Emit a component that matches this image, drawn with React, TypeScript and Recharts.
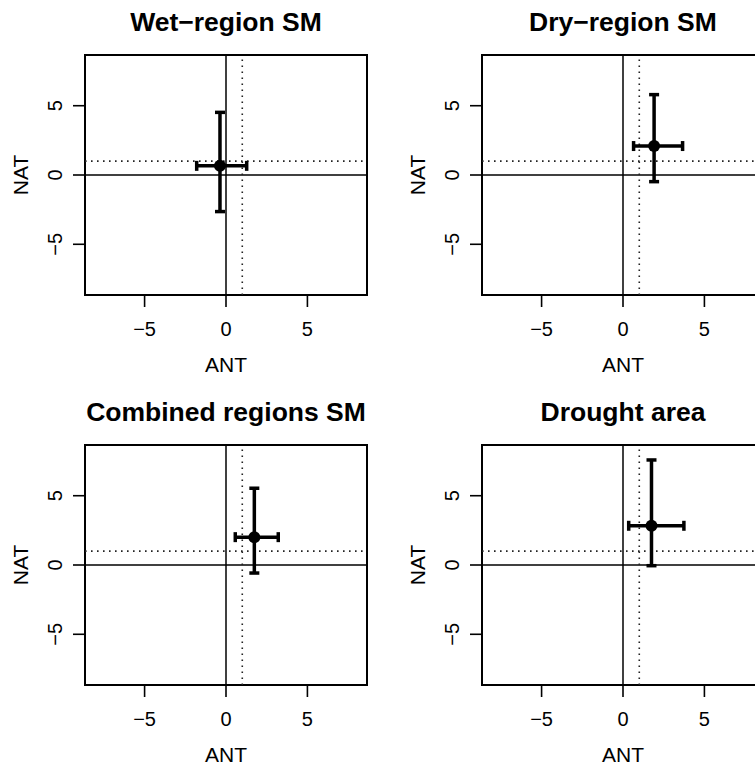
import React from "react";
import {
  ScatterChart,
  Scatter,
  XAxis,
  YAxis,
  ErrorBar,
  ReferenceLine,
  ReferenceArea,
  Label,
} from "recharts";

// panel titles and the estimates (best guess + range) for each panel
const panelTitles = ["Wet\u2212region SM", "Dry\u2212region SM", "Combined regions SM", "Drought area"];
const antBest = [-0.37, 1.91, 1.74, 1.75];
const antLow = [-1.8, 0.65, 0.57, 0.35];
const antHigh = [1.27, 3.66, 3.21, 3.74];
const natBest = [0.66, 2.09, 2.01, 2.83];
const natLow = [-2.64, -0.48, -0.58, -0.05];
const natHigh = [4.52, 5.8, 5.54, 7.58];
const axisTicks = [-5, 0, 5];

const LIM = 8.66;
const FONT = '"Liberation Sans", Arial, Helvetica, sans-serif';
const CHART_W = 396;
const CHART_H = 389;
const PLOT_LEFT = 85;
const PLOT_TOP = 55;
const PLOT_W = 282;
const PLOT_H = 240;

const fmt = (v: number) => (v < 0 ? `\u2212${Math.abs(v)}` : `${v}`);

function XTick({ x, y, payload }: any) {
  return (
    <text x={x} y={y + 29} textAnchor="middle" fontSize={20} fontFamily={FONT} fill="#000">
      {fmt(payload.value)}
    </text>
  );
}

function YTick({ x, y, payload }: any) {
  const tx = x - 11;
  return (
    <text
      x={tx}
      y={y}
      transform={`rotate(-90, ${tx}, ${y})`}
      textAnchor="middle"
      fontSize={20}
      fontFamily={FONT}
      fill="#000"
    >
      {fmt(payload.value)}
    </text>
  );
}

const antLabel = ({ viewBox }: any) => (
  <text
    x={viewBox.x + viewBox.width / 2}
    y={viewBox.y + 77}
    textAnchor="middle"
    fontSize={21}
    fontFamily={FONT}
    fill="#000"
  >
    ANT
  </text>
);

const natLabel = ({ viewBox }: any) => {
  const tx = viewBox.x + 28;
  const ty = viewBox.y + viewBox.height / 2;
  return (
    <text
      x={tx}
      y={ty}
      transform={`rotate(-90, ${tx}, ${ty})`}
      textAnchor="middle"
      fontSize={21}
      fontFamily={FONT}
      fill="#000"
    >
      NAT
    </text>
  );
};

const dot = (props: any) => <circle cx={props.cx} cy={props.cy} r={6} fill="#000" />;

function Panel({ i, left, top }: { i: number; left: number; top: number }) {
  const data = [
    {
      ant: antBest[i],
      nat: natBest[i],
      errX: [antBest[i] - antLow[i], antHigh[i] - antBest[i]],
      errY: [natBest[i] - natLow[i], natHigh[i] - natBest[i]],
    },
  ];
  return (
    <div style={{ position: "absolute", left, top, width: CHART_W, height: CHART_H }}>
      <svg
        width={CHART_W}
        height={PLOT_TOP}
        style={{ position: "absolute", left: 0, top: 0, overflow: "visible" }}
      >
        <text
          x={PLOT_LEFT + PLOT_W / 2}
          y={30.5}
          textAnchor="middle"
          fontSize={26.5}
          fontWeight="bold"
          fontFamily={FONT}
          fill="#000"
        >
          {panelTitles[i]}
        </text>
      </svg>
      <ScatterChart
        width={CHART_W}
        height={CHART_H}
        margin={{ top: PLOT_TOP, right: CHART_W - PLOT_LEFT - PLOT_W, bottom: 0, left: 0 }}
      >
        <XAxis
          type="number"
          dataKey="ant"
          domain={[-LIM, LIM]}
          ticks={axisTicks}
          allowDataOverflow
          axisLine={false}
          tickLine={{ stroke: "#000", strokeWidth: 1.6 }}
          tickSize={12}
          tickMargin={0}
          tick={<XTick />}
          height={CHART_H - PLOT_TOP - PLOT_H}
        >
          <Label content={antLabel} />
        </XAxis>
        <YAxis
          type="number"
          dataKey="nat"
          domain={[-LIM, LIM]}
          ticks={axisTicks}
          allowDataOverflow
          axisLine={false}
          tickLine={{ stroke: "#000", strokeWidth: 1.6 }}
          tickSize={12}
          tickMargin={0}
          tick={<YTick />}
          width={PLOT_LEFT}
        >
          <Label content={natLabel} />
        </YAxis>
        <ReferenceLine x={0} stroke="#000" strokeWidth={1.5} />
        <ReferenceLine y={0} stroke="#000" strokeWidth={1.5} />
        <ReferenceLine x={1} stroke="#222" strokeWidth={1.6} strokeDasharray="1.6 4.4" />
        <ReferenceLine y={1} stroke="#222" strokeWidth={1.6} strokeDasharray="1.6 4.4" />
        <ReferenceArea
          x1={-LIM}
          x2={LIM}
          y1={-LIM}
          y2={LIM}
          fill="none"
          stroke="#000"
          strokeWidth={2}
          ifOverflow="visible"
        />
        <Scatter data={data} shape={dot} isAnimationActive={false}>
          <ErrorBar dataKey="errX" direction="x" width={5} stroke="#000" strokeWidth={3.5} />
          <ErrorBar dataKey="errY" direction="y" width={5} stroke="#000" strokeWidth={3.5} />
        </Scatter>
      </ScatterChart>
    </div>
  );
}

export default function App() {
  const positions = [
    [0, 0],
    [396.5, 0],
    [0, 389.5],
    [396.5, 389.5],
  ];
  return (
    <div
      style={{
        position: "absolute",
        left: 0,
        top: 0,
        width: 755,
        height: 765,
        overflow: "hidden",
        background: "#fff",
      }}
    >
      {positions.map(([l, t], i) => (
        <Panel key={i} i={i} left={l} top={t} />
      ))}
    </div>
  );
}
